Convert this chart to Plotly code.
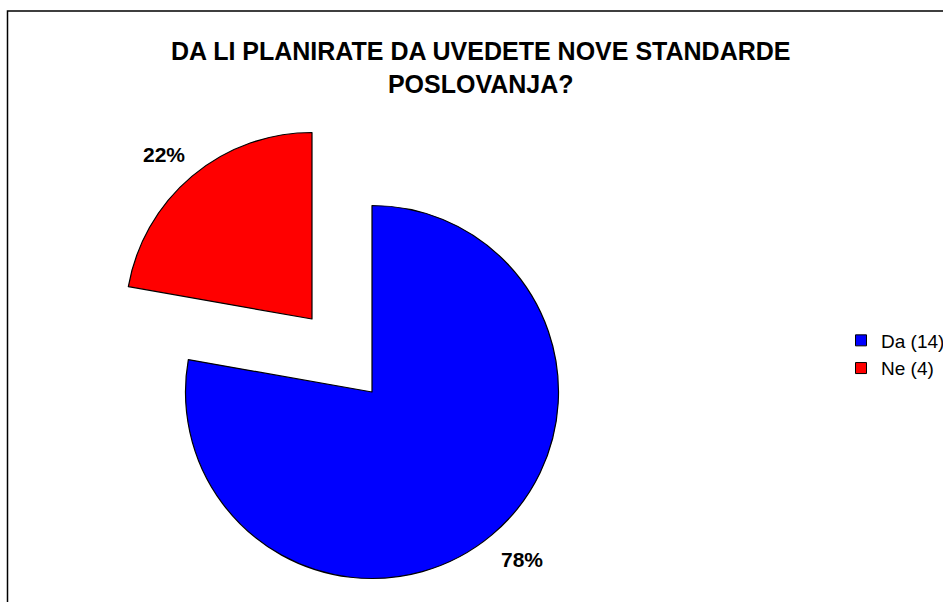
import plotly.graph_objects as go

# Data
labels = ["Da (14)", "Ne (4)"]
values = [14, 4]
colors = ["#0000FF", "#FF0000"]
title_text = "DA LI PLANIRATE DA UVEDETE NOVE STANDARDE<br>POSLOVANJA?"

W, H = 943, 602
total = sum(values)
pcts = [f"{round(100 * v / total)}%" for v in values]

def px_x(p):
    return p / W

def px_y(p):
    return 1 - p / H

FONT = "Liberation Sans, Arial, sans-serif"

fig = go.Figure()

# Main (non-exploded) slice: Da
fig.add_trace(go.Pie(
    labels=labels, values=values, sort=False, direction="clockwise", rotation=0,
    marker=dict(colors=[colors[0], "rgba(0,0,0,0)"],
                line=dict(color="black", width=[1.2, 0])),
    textinfo="none", hoverinfo="skip", showlegend=False,
    domain=dict(x=[px_x(185.5), px_x(558.5)], y=[px_y(578.5), px_y(205.5)]),
))
# Exploded slice: Ne
fig.add_trace(go.Pie(
    labels=labels, values=values, sort=False, direction="clockwise", rotation=0,
    marker=dict(colors=["rgba(0,0,0,0)", colors[1]],
                line=dict(color="black", width=[0, 1.2])),
    textinfo="none", hoverinfo="skip", showlegend=False,
    domain=dict(x=[px_x(125.5), px_x(498.5)], y=[px_y(505.5), px_y(132.5)]),
))

# Legend entries
for lab, col in zip(labels, colors):
    fig.add_trace(go.Scatter(
        x=[None], y=[None], mode="markers", name=lab,
        marker=dict(symbol="square", size=11, color=col,
                    line=dict(color="black", width=1)),
    ))

annotations = [
    dict(text=f"<b>{title_text}</b>", x=px_x(480.5), y=px_y(35), xref="paper", yref="paper",
         xanchor="center", yanchor="top", showarrow=False,
         font=dict(family=FONT, size=25, color="black")),
    dict(text=f"<b>{pcts[0]}</b>", x=px_x(522), y=px_y(559.5), xref="paper", yref="paper",
         xanchor="center", yanchor="middle", showarrow=False,
         font=dict(family=FONT, size=21, color="black")),
    dict(text=f"<b>{pcts[1]}</b>", x=px_x(163.5), y=px_y(154), xref="paper", yref="paper",
         xanchor="center", yanchor="middle", showarrow=False,
         font=dict(family=FONT, size=21, color="black")),
]

fig.update_layout(
    width=W, height=H,
    margin=dict(l=0, r=0, t=0, b=0, autoexpand=False),
    paper_bgcolor="white", plot_bgcolor="white",
    xaxis=dict(visible=False), yaxis=dict(visible=False),
    showlegend=True,
    legend=dict(x=px_x(841), y=px_y(354.5), xanchor="left", yanchor="middle",
                font=dict(family=FONT, size=19, color="black"),
                bgcolor="rgba(0,0,0,0)", tracegroupgap=0),
    annotations=annotations,
    shapes=[dict(type="rect", xref="paper", yref="paper",
                 x0=px_x(7.5), x1=1.2, y0=-0.2, y1=px_y(11),
                 line=dict(color="black", width=1.5), fillcolor="rgba(0,0,0,0)",
                 layer="below")],
)

fig.write_html("out.html")
